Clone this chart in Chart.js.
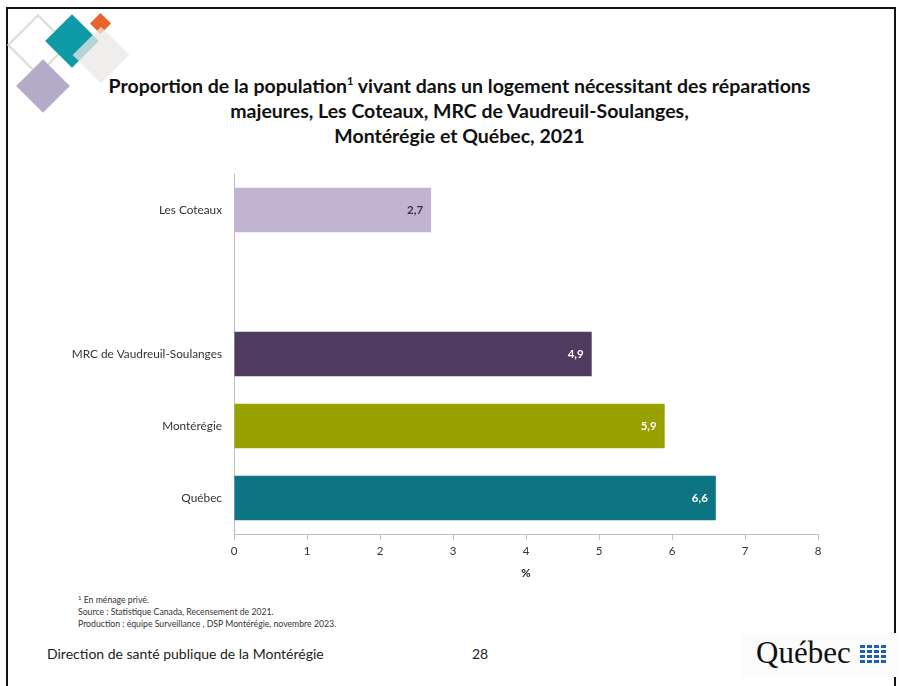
<!DOCTYPE html>
<html lang="fr">
<head>
<meta charset="utf-8">
<script src="https://cdn.jsdelivr.net/npm/chart.js@4.4.0/dist/chart.umd.min.js"></script>
<style>
  html, body { margin: 0; padding: 0; background: #fff; }
  body { width: 904px; height: 686px; position: relative; overflow: hidden; font-family: Lato, "Open Sans", sans-serif; }
  .frame { position: absolute; left: 6px; top: 7px; width: 890px; height: 690px; border: 2px solid #111; box-sizing: border-box; }
  .sq { position: absolute; transform: rotate(45deg); }
  .title { position: absolute; left: 0; width: 919px; top: 73px; text-align: center; font-weight: bold; font-size: 19.5px; line-height: 25px; color: #111; }
  .title sup { font-size: 11px; vertical-align: 8px; line-height: 0; }
  #wrap { position: absolute; left: 0; top: 160px; width: 904px; height: 424px; }
  .notes { position: absolute; left: 78px; top: 594px; font-size: 8.7px; line-height: 12px; color: #333; }
  .notes sup { font-size: 6px; vertical-align: 3px; line-height: 0; }
  .foot { position: absolute; top: 645px; font-size: 14px; color: #222; }
  .logo { position: absolute; left: 742px; top: 633px; width: 156px; height: 44px; background: #fbfbfb; }
  .logo span { position: absolute; left: 14px; top: 2px; font-family: "Liberation Serif", "DejaVu Serif", serif; font-size: 31px; color: #111; }
  .flag { position: absolute; width: 12px; height: 8px; background: #1f5fae; }
  .flag::before { content: ""; position: absolute; left: 5px; top: 0; width: 2px; height: 8px; background: #fff; }
  .flag::after { content: ""; position: absolute; left: 0; top: 3px; width: 12px; height: 2px; background: #fff; }
</style>
</head>
<body>
<div class="frame"></div>
<div class="sq" style="left:16px;top:23px;width:40px;height:40px;border:2px solid #d6ddd2;"></div>
<div class="sq" style="left:53px;top:22px;width:38px;height:38px;background:#0f9aa8;"></div>
<div class="sq" style="left:93px;top:16px;width:15px;height:15px;background:#e8642c;"></div>
<div class="sq" style="left:81px;top:35px;width:40px;height:40px;background:rgba(235,232,230,0.75);"></div>
<div class="sq" style="left:24px;top:67px;width:38px;height:38px;background:#b4abc9;"></div>

<div class="title">Proportion de la population<sup>1</sup> vivant dans un logement nécessitant des réparations<br>majeures, Les Coteaux, MRC de Vaudreuil-Soulanges,<br>Montérégie et Québec, 2021</div>

<div id="wrap"><canvas id="c"></canvas></div>

<div class="notes"><sup>1</sup> En ménage privé.<br>Source : Statistique Canada, Recensement de 2021.<br>Production : équipe Surveillance , DSP Montérégie, novembre 2023.</div>
<div class="foot" style="left:47px;">Direction de santé publique de la Montérégie</div>
<div class="foot" style="left:472px;">28</div>
<div class="logo"><span>Québec</span>
  <div class="flag" style="left:118px;top:12px;"></div>
  <div class="flag" style="left:132px;top:12px;"></div>
  <div class="flag" style="left:118px;top:22px;"></div>
  <div class="flag" style="left:132px;top:22px;"></div>
</div>

<script>
const categories = ['Les Coteaux', '', 'MRC de Vaudreuil-Soulanges', 'Montérégie', 'Québec'];
const values = [2.7, null, 4.9, 5.9, 6.6];
const barColors = ['#c3b3d2', '#ffffff', '#4e3b5f', '#97a100', '#0c7482'];
const labelColors = ['#3a3340', '#fff', '#fff', '#fff', '#fff'];
const xTicks = [0, 1, 2, 3, 4, 5, 6, 7, 8];

const valueLabels = {
  id: 'valueLabels',
  afterDatasetsDraw(chart) {
    const ctx = chart.ctx;
    const meta = chart.getDatasetMeta(0);
    ctx.save();
    ctx.font = 'bold 11.5px Lato, sans-serif';
    ctx.textAlign = 'right';
    ctx.textBaseline = 'middle';
    meta.data.forEach((bar, i) => {
      if (values[i] == null) return;
      ctx.fillStyle = labelColors[i];
      ctx.fillText(values[i].toFixed(1).replace('.', ','), bar.x - 8, bar.y);
    });
    ctx.restore();
  }
};

new Chart(document.getElementById('c'), {
  type: 'bar',
  data: {
    labels: categories,
    datasets: [{
      data: values,
      backgroundColor: barColors,
      borderColor: barColors,
      borderWidth: 0,
      categoryPercentage: 1,
      barPercentage: 0.62
    }]
  },
  options: {
    indexAxis: 'y',
    responsive: true,
    maintainAspectRatio: false,
    animation: false,
    layout: { padding: { top: 14, right: 86, left: 0, bottom: 0 } },
    plugins: { legend: { display: false }, tooltip: { enabled: false } },
    scales: {
      x: {
        min: 0, max: 8,
        afterBuildTicks: s => { s.ticks = xTicks.map(v => ({ value: v })); },
        afterFit: s => { s.height = 50; },
        grid: { display: true, drawOnChartArea: false, drawTicks: true, tickLength: 6, color: '#bfbfbf' },
        border: { display: true, color: '#bfbfbf' },
        ticks: { color: '#333', font: { family: 'Lato', size: 11.5 }, padding: 4 },
        title: { display: true, text: '%', color: '#222', font: { family: 'Lato', size: 11.5, weight: 'bold' }, padding: { top: 4 } }
      },
      y: {
        afterFit: s => { s.width = 234; },
        grid: { display: false },
        border: { display: true, color: '#bfbfbf' },
        ticks: { color: '#333', font: { family: 'Lato', size: 11.8 }, padding: 4 }
      }
    }
  },
  plugins: [valueLabels]
});
</script>
</body>
</html>
